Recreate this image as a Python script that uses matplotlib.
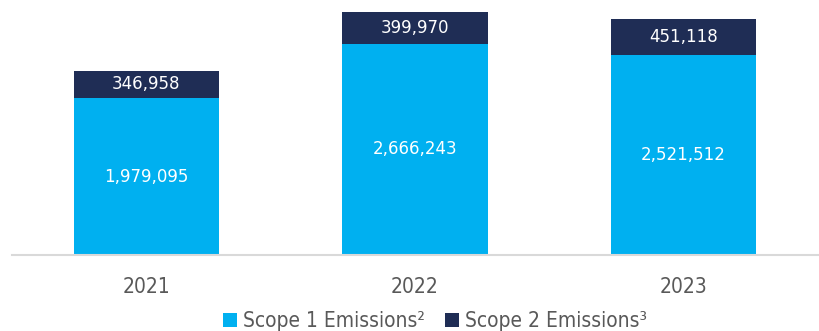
import matplotlib
matplotlib.use("Agg")
import matplotlib.pyplot as plt
from matplotlib.patches import Patch
from matplotlib.font_manager import FontProperties

years = ["2021", "2022", "2023"]
scope1 = [1979095, 2666243, 2521512]
scope2 = [346958, 399970, 451118]
legend_labels = ["Scope 1 Emissions\u00b2", "Scope 2 Emissions\u00b3"]

c1 = "#00B0F0"
c2 = "#1F2D55"

fig = plt.figure(figsize=(8.2, 3.31), dpi=100)
ax = fig.add_axes([12/820, (331-255)/331, (818-12)/820, 255/331])

x = list(range(len(years)))
w = 0.54
ax.bar(x, scope1, width=w, color=c1, zorder=2)
ax.bar(x, scope2, width=w, bottom=scope1, color=c2, zorder=2)

for i in x:
    ax.text(i, scope1[i] / 2, f"{scope1[i]:,}", ha="center", va="center",
            color="white", fontsize=12, family="DejaVu Sans")
    ax.text(i, scope1[i] + scope2[i] / 2, f"{scope2[i]:,}", ha="center", va="center",
            color="white", fontsize=12, family="DejaVu Sans")

ax.set_xlim(-0.5, 2.5)
ax.set_ylim(0, 3.217e6)
for s in ["top", "right", "left"]:
    ax.spines[s].set_visible(False)
ax.spines["bottom"].set_color("#D9D9D9")
ax.spines["bottom"].set_linewidth(1.5)
ax.set_yticks([])
ax.set_xticks(x)
tick_fp = FontProperties(family="DejaVu Sans", stretch="condensed", size=15)
ax.set_xticklabels(years, fontproperties=tick_fp, color="#595959")
ax.tick_params(axis="x", length=0, pad=16)

handles = [Patch(facecolor=c1), Patch(facecolor=c2)]
leg_fp = FontProperties(family="DejaVu Sans", stretch="condensed", size=15)
fig.legend(handles, legend_labels, loc="center", bbox_to_anchor=(435/820, 1 - 321/331),
           ncol=2, frameon=False, handlelength=0.68, handleheight=0.68, handletextpad=0.25,
           columnspacing=1.0, prop=leg_fp, labelcolor="#595959", borderpad=0)

fig.savefig("out.png", dpi=100)
